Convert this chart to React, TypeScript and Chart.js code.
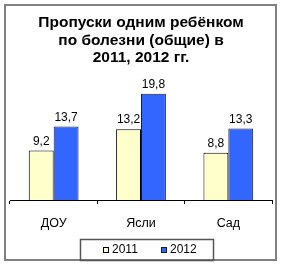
import React, { useEffect, useRef } from "react";
import { Chart, registerables } from "chart.js";

Chart.register(...registerables);

const categories = ["ДОУ", "Ясли", "Сад"];
const seriesNames = ["2011", "2012"];
const values2011 = [9.2, 13.2, 8.8];
const values2012 = [13.7, 19.8, 13.3];
const titleLines = ["Пропуски одним ребёнком", "по болезни (общие) в", "2011, 2012 гг."];
const yMax = 23;

const FONT = "Arial, 'Liberation Sans', sans-serif";
const fmt = (v: number) => v.toFixed(1).replace(".", ",");

const framePlugin = {
  id: "frame",
  beforeDraw(chart: any) {
    const { ctx, width, height } = chart;
    ctx.save();
    ctx.fillStyle = "#ffffff";
    ctx.fillRect(0, 0, width, height);
    ctx.strokeStyle = "#808080";
    ctx.lineWidth = 2;
    ctx.strokeRect(5, 5, 271, 255);
    ctx.restore();
  },
};

const valueLabelPlugin = {
  id: "valueLabels",
  afterDatasetsDraw(chart: any) {
    const { ctx } = chart;
    ctx.save();
    ctx.font = `12px ${FONT}`;
    ctx.fillStyle = "#000";
    ctx.textAlign = "center";
    ctx.textBaseline = "bottom";
    chart.data.datasets.forEach((ds: any, di: number) => {
      const meta = chart.getDatasetMeta(di);
      meta.data.forEach((el: any, i: number) => {
        ctx.fillText(fmt(ds.data[i]), el.x, el.y - 3);
      });
    });
    ctx.restore();
  },
};

const legendPlugin = {
  id: "boxLegend",
  afterDraw(chart: any) {
    const { ctx } = chart;
    ctx.save();
    ctx.strokeStyle = "#555";
    ctx.lineWidth = 1.5;
    ctx.strokeRect(80.5, 239.5, 133, 21);
    ctx.font = `12px ${FONT}`;
    ctx.textBaseline = "middle";
    ctx.textAlign = "left";
    let x = 103;
    const cy = 250;
    chart.data.datasets.forEach((ds: any) => {
      ctx.fillStyle = ds.backgroundColor;
      ctx.fillRect(x, cy - 3, 6, 6);
      ctx.strokeStyle = ds.borderColor;
      ctx.lineWidth = 1;
      ctx.strokeRect(x + 0.5, cy - 2.5, 5, 5);
      ctx.fillStyle = "#000";
      ctx.fillText(ds.label, x + 9, cy);
      x += 58;
    });
    ctx.restore();
  },
};

export default function App() {
  const ref = useRef<HTMLCanvasElement | null>(null);
  useEffect(() => {
    if (!ref.current) return;
    const chart = new Chart(ref.current, {
      type: "bar",
      data: {
        labels: categories,
        datasets: [
          {
            label: seriesNames[0],
            data: values2011,
            backgroundColor: "#FFFFCC",
            borderColor: "#000000",
            borderWidth: 1,
            categoryPercentage: 0.57,
            barPercentage: 1,
          },
          {
            label: seriesNames[1],
            data: values2012,
            backgroundColor: "#3366FF",
            borderColor: "#1a1a40",
            borderWidth: 1,
            categoryPercentage: 0.57,
            barPercentage: 1,
          },
        ],
      },
      options: {
        responsive: false,
        animation: false,
        devicePixelRatio: 1,
        layout: { padding: { left: 10, right: 11, top: 4, bottom: 24 } },
        plugins: {
          legend: { display: false },
          tooltip: { enabled: false },
          title: {
            display: true,
            text: titleLines,
            color: "#000",
            font: { family: FONT, size: 15.5, weight: "bold", lineHeight: 1.13 },
            padding: { top: 10, bottom: 10 },
          },
        },
        scales: {
          x: {
            grid: {
              display: true,
              drawOnChartArea: false,
              drawTicks: true,
              tickLength: 4,
              offset: true,
              color: "#000",
            },
            border: { display: true, color: "#000", width: 1 },
            ticks: { color: "#000", font: { family: FONT, size: 12.5 }, padding: 12 },
          },
          y: { display: false, min: 0, max: yMax },
        },
      },
      plugins: [framePlugin, valueLabelPlugin, legendPlugin],
    });
    return () => chart.destroy();
  }, []);
  return (
    <div style={{ position: "fixed", left: 0, top: 0, width: 283, height: 267 }}>
      <canvas ref={ref} width={283} height={267} style={{ display: "block" }} />
    </div>
  );
}
